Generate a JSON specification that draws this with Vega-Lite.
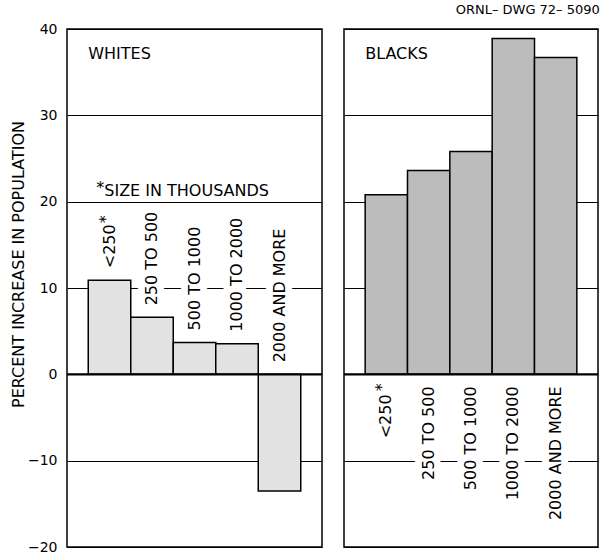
{
  "$schema": "https://vega.github.io/schema/vega-lite/v6.json",
  "padding": {"left": 9, "top": 4, "right": 0, "bottom": 5},
  "background": "white",
  "title": {"text": "ORNL– DWG 72– 5090", "anchor": "end", "fontSize": 13, "font": "DejaVu Sans", "fontWeight": "normal", "color": "black", "offset": 4},
  "datasets": {
    "pop": [
      {"group": "WHITES", "size": "<250", "value": 10.9},
      {"group": "WHITES", "size": "250 TO 500", "value": 6.6},
      {"group": "WHITES", "size": "500 TO 1000", "value": 3.7},
      {"group": "WHITES", "size": "1000 TO 2000", "value": 3.55},
      {"group": "WHITES", "size": "2000 AND MORE", "value": -13.5},
      {"group": "BLACKS", "size": "<250", "value": 20.8},
      {"group": "BLACKS", "size": "250 TO 500", "value": 23.6},
      {"group": "BLACKS", "size": "500 TO 1000", "value": 25.8},
      {"group": "BLACKS", "size": "1000 TO 2000", "value": 38.9},
      {"group": "BLACKS", "size": "2000 AND MORE", "value": 36.7}
    ]
  },
  "spacing": 18,
  "hconcat": [
    {
      "width": 255,
      "height": 518,
      "layer": [
        {
          "data": {"name": "pop"},
          "transform": [{"filter": "datum.group === 'WHITES'"}],
          "mark": {"type": "bar", "fill": "#e2e2e2", "stroke": "black", "strokeWidth": 1.5, "opacity": 0},
          "encoding": {
            "x": {"field": "size", "type": "nominal", "scale": {"domain": ["<250", "250 TO 500", "500 TO 1000", "1000 TO 2000", "2000 AND MORE"], "paddingInner": 0, "paddingOuter": 0.5}, "axis": null},
            "y": {
              "field": "value", "type": "quantitative",
              "scale": {"domain": [-20, 40], "nice": false, "zero": false},
              "axis": {
                "values": [-20, -10, 0, 10, 20, 30, 40],
                "grid": true, "gridColor": "black", "gridWidth": 1.2, "gridOpacity": 1,
                "ticks": false, "domain": false,
                "labelFont": "DejaVu Sans", "labelFontSize": 14, "labelPadding": 10, "labelColor": "black",
                "title": "PERCENT INCREASE IN POPULATION",
                "titleFont": "DejaVu Sans", "titleFontSize": 16, "titleFontWeight": "normal", "titleColor": "black",
                "titleX": -49, "titleY": 235, "titleAngle": 270, "titleBaseline": "middle", "titleAlign": "center"
              }
            }
          }
        },
        {
          "data": {"values": [{}]},
          "mark": {"type": "text", "text": "SIZE IN THOUSANDS", "align": "left", "baseline": "alphabetic", "fontSize": 16, "fill": "white", "stroke": "white", "strokeWidth": 12, "strokeJoin": "round", "dx": 16},
          "encoding": {
            "x": {"datum": "<250", "bandPosition": 0},
            "y": {"datum": 20.6}
          }
        },
        {
          "data": {"values": [{}]},
          "mark": {"type": "text", "text": "SIZE IN THOUSANDS", "align": "left", "baseline": "alphabetic", "fontSize": 16, "fill": "black", "dx": 16},
          "encoding": {
            "x": {"datum": "<250", "bandPosition": 0},
            "y": {"datum": 20.6}
          }
        },
        {
          "data": {"values": [{}]},
          "mark": {"type": "text", "text": "*", "align": "left", "baseline": "alphabetic", "fontSize": 16, "fill": "black", "dx": 8, "dy": -3},
          "encoding": {
            "x": {"datum": "<250", "bandPosition": 0},
            "y": {"datum": 20.6}
          }
        },
        {
          "data": {"name": "pop"},
          "transform": [{"filter": "datum.group === 'WHITES' && datum.value > 0"}],
          "mark": {"type": "text", "angle": 270, "align": "left", "baseline": "middle", "fontSize": 16, "fill": "white", "stroke": "white", "strokeWidth": 14, "strokeJoin": "round", "dx": 12},
          "encoding": {
            "x": {"field": "size", "type": "nominal"},
            "y": {"field": "value", "type": "quantitative"},
            "text": {"field": "size"}
          }
        },
        {
          "data": {"name": "pop"},
          "transform": [{"filter": "datum.group === 'WHITES' && datum.value < 0"}],
          "mark": {"type": "text", "angle": 270, "align": "left", "baseline": "middle", "fontSize": 16, "fill": "white", "stroke": "white", "strokeWidth": 14, "strokeJoin": "round", "dx": 12},
          "encoding": {
            "x": {"field": "size", "type": "nominal"},
            "y": {"datum": 0},
            "text": {"field": "size"}
          }
        },
        {
          "data": {"name": "pop"},
          "transform": [{"filter": "datum.group === 'WHITES' && datum.value > 0"}],
          "mark": {"type": "text", "angle": 270, "align": "left", "baseline": "middle", "fontSize": 16, "fill": "black", "dx": 12},
          "encoding": {
            "x": {"field": "size", "type": "nominal"},
            "y": {"field": "value", "type": "quantitative"},
            "text": {"field": "size"}
          }
        },
        {
          "data": {"name": "pop"},
          "transform": [{"filter": "datum.group === 'WHITES' && datum.value < 0"}],
          "mark": {"type": "text", "angle": 270, "align": "left", "baseline": "middle", "fontSize": 16, "fill": "black", "dx": 12},
          "encoding": {
            "x": {"field": "size", "type": "nominal"},
            "y": {"datum": 0},
            "text": {"field": "size"}
          }
        },
        {
          "data": {"name": "pop"},
          "transform": [{"filter": "datum.group === 'WHITES' && datum.size === '<250'"}],
          "mark": {"type": "text", "text": "*", "angle": 270, "align": "left", "baseline": "middle", "fontSize": 16, "fill": "black", "dx": 57, "dy": -4},
          "encoding": {
            "x": {"field": "size", "type": "nominal"},
            "y": {"field": "value", "type": "quantitative"}
          }
        },
        {
          "data": {"name": "pop"},
          "transform": [{"filter": "datum.group === 'WHITES'"}],
          "mark": {"type": "bar", "fill": "#e2e2e2", "stroke": "black", "strokeWidth": 1.5},
          "encoding": {
            "x": {"field": "size", "type": "nominal"},
            "y": {"field": "value", "type": "quantitative"}
          }
        },
        {
          "data": {"values": [{}]},
          "mark": {"type": "rule", "color": "black", "strokeWidth": 2.2},
          "encoding": {"y": {"datum": 0}}
        },
        {
          "data": {"values": [{}]},
          "mark": {"type": "text", "text": "WHITES", "align": "left", "baseline": "alphabetic", "fontSize": 16, "fill": "black"},
          "encoding": {
            "x": {"datum": "<250", "bandPosition": 0},
            "y": {"datum": 36.5}
          }
        }
      ]
    },
    {
      "width": 254,
      "height": 518,
      "layer": [
        {
          "data": {"name": "pop"},
          "transform": [{"filter": "datum.group === 'BLACKS'"}],
          "mark": {"type": "bar", "fill": "#bcbcbc", "opacity": 0},
          "encoding": {
            "x": {"field": "size", "type": "nominal", "scale": {"domain": ["<250", "250 TO 500", "500 TO 1000", "1000 TO 2000", "2000 AND MORE"], "paddingInner": 0, "paddingOuter": 0.5}, "axis": null},
            "y": {
              "field": "value", "type": "quantitative",
              "scale": {"domain": [-20, 40], "nice": false, "zero": false},
              "axis": {
                "values": [-20, -10, 0, 10, 20, 30, 40],
                "grid": true, "gridColor": "black", "gridWidth": 1.2, "gridOpacity": 1,
                "ticks": false, "domain": false, "labels": false, "title": null,
                "minExtent": 0, "maxExtent": 0, "labelPadding": 0, "offset": 0
              }
            }
          }
        },
        {
          "data": {"name": "pop"},
          "transform": [{"filter": "datum.group === 'BLACKS' && datum.size !== '<250'"}],
          "mark": {"type": "text", "angle": 270, "align": "right", "baseline": "middle", "fontSize": 16, "fill": "white", "stroke": "white", "strokeWidth": 14, "strokeJoin": "round", "dx": -12},
          "encoding": {
            "x": {"field": "size", "type": "nominal"},
            "y": {"datum": 0},
            "text": {"field": "size"}
          }
        },
        {
          "data": {"name": "pop"},
          "transform": [{"filter": "datum.group === 'BLACKS' && datum.size !== '<250'"}],
          "mark": {"type": "text", "angle": 270, "align": "right", "baseline": "middle", "fontSize": 16, "fill": "black", "dx": -12},
          "encoding": {
            "x": {"field": "size", "type": "nominal"},
            "y": {"datum": 0},
            "text": {"field": "size"}
          }
        },
        {
          "data": {"name": "pop"},
          "transform": [{"filter": "datum.group === 'BLACKS' && datum.size === '<250'"}],
          "mark": {"type": "text", "angle": 270, "align": "right", "baseline": "middle", "fontSize": 16, "fill": "black", "dx": -20},
          "encoding": {
            "x": {"field": "size", "type": "nominal"},
            "y": {"datum": 0},
            "text": {"field": "size"}
          }
        },
        {
          "data": {"name": "pop"},
          "transform": [{"filter": "datum.group === 'BLACKS' && datum.size === '<250'"}],
          "mark": {"type": "text", "text": "*", "angle": 270, "align": "right", "baseline": "middle", "fontSize": 16, "fill": "black", "dx": -9, "dy": -4},
          "encoding": {
            "x": {"field": "size", "type": "nominal"},
            "y": {"datum": 0}
          }
        },
        {
          "data": {"name": "pop"},
          "transform": [{"filter": "datum.group === 'BLACKS'"}],
          "mark": {"type": "bar", "fill": "#bcbcbc", "stroke": "black", "strokeWidth": 1.5},
          "encoding": {
            "x": {"field": "size", "type": "nominal"},
            "y": {"field": "value", "type": "quantitative"}
          }
        },
        {
          "data": {"values": [{}]},
          "mark": {"type": "rule", "color": "black", "strokeWidth": 2.2},
          "encoding": {"y": {"datum": 0}}
        },
        {
          "data": {"values": [{}]},
          "mark": {"type": "text", "text": "BLACKS", "align": "left", "baseline": "alphabetic", "fontSize": 16, "fill": "black"},
          "encoding": {
            "x": {"datum": "<250", "bandPosition": 0},
            "y": {"datum": 36.5}
          }
        }
      ]
    }
  ],
  "config": {
    "font": "DejaVu Sans",
    "text": {"font": "DejaVu Sans"},
    "view": {"stroke": "black", "strokeWidth": 1.5}
  }
}
